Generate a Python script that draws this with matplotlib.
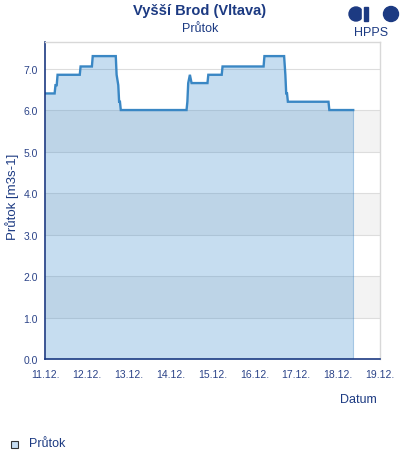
import matplotlib
matplotlib.use("Agg")
import matplotlib.pyplot as plt
from matplotlib.patches import Ellipse, Rectangle

plt.rcParams['font.family'] = ['Liberation Sans', 'DejaVu Sans']

# data: days since 11.12. 00:00, discharge m3/s
days = [0.0, 0.23, 0.25, 0.28, 0.30, 0.83, 0.85, 1.12, 1.14, 1.69, 1.71, 1.75,
        1.77, 1.79, 1.81, 3.38, 3.40, 3.42, 3.46, 3.50, 3.88, 3.90, 4.22, 4.24,
        5.22, 5.24, 5.71, 5.74, 5.76, 5.78, 5.80, 6.77, 6.79, 7.36]
flow = [6.4, 6.4, 6.6, 6.6, 6.85, 6.85, 7.05, 7.05, 7.3, 7.3, 6.85, 6.6,
        6.2, 6.2, 6.0, 6.0, 6.2, 6.65, 6.85, 6.65, 6.65, 6.85, 6.85, 7.05,
        7.05, 7.3, 7.3, 6.85, 6.4, 6.4, 6.2, 6.2, 6.0, 6.0]
xtick_labels = ["11.12.", "12.12.", "13.12.", "14.12.", "15.12.", "16.12.",
                "17.12.", "18.12.", "19.12."]
yticks = [0.0, 1.0, 2.0, 3.0, 4.0, 5.0, 6.0, 7.0]

navy = '#1c3a82'
txt = '#2b4388'
W, H = 400, 460

fig = plt.figure(figsize=(4.0, 4.6), dpi=100)
ax = fig.add_axes([45/W, 1-360/H, 335/W, (360-43)/H])
ax.set_xlim(0, 8)
ax.set_ylim(0, 7.64)

# alternating bands
for lo in [1, 3, 5]:
    ax.axhspan(lo, lo+1, color='#f3f3f3', zorder=0, lw=0)
for y in yticks[1:]:
    ax.axhline(y, color='#dddddd', lw=0.8, zorder=0.5)

ax.fill_between(days, flow, 0, color=(31/255, 123/255, 199/255), alpha=0.25,
                lw=0, zorder=1)
ax.plot([days[-1], days[-1]], [0, flow[-1]], color='#2f7bbf', alpha=0.3, lw=0.8, zorder=1.5)
ax.plot(days, flow, color='#3a87c4', lw=1.7, zorder=2, solid_joinstyle='miter')

ax.set_xticks(range(len(xtick_labels)))
ax.set_xticklabels(xtick_labels)
ax.set_yticks(yticks)
ax.set_yticklabels([f"{v:.1f}" for v in yticks])
ax.tick_params(length=0, labelsize=7.5, labelcolor=txt)
ax.tick_params(axis='x', pad=7)
ax.tick_params(axis='y', pad=5)

for s in ['top', 'right']:
    ax.spines[s].set_color('#d8d8d8')
    ax.spines[s].set_linewidth(1)
for s in ['left', 'bottom']:
    ax.spines[s].set_color(navy)
    ax.spines[s].set_linewidth(1.2)

fig.text(12/W, 1-197/H, "Průtok [m3s-1]", rotation=90, ha='center', va='center',
         color=navy, fontsize=9.5)

fig.text(0.5, 1-11/H, "Vyšší Brod (Vltava)", ha='center', va='center',
         fontsize=10.5, fontweight='bold', color=navy)
fig.text(0.5, 1-29/H, "Průtok", ha='center', va='center', fontsize=9, color=navy)
fig.text(358/W, 1-400/H, "Datum", ha='center', va='center', fontsize=9, color=navy)

# legend
fig.patches.append(Rectangle((11/W, 1-449/H), 7/W, 7/H, transform=fig.transFigure,
                             facecolor='#c6dcf0', edgecolor='#333333', lw=0.8))
fig.text(29/W, 1-444/H, "Průtok", ha='left', va='center', fontsize=9, color=navy)

# logo
fig.patches.append(Ellipse((356/W, 1-15/H), 14/W, 14/H, transform=fig.transFigure,
                           color=navy))
fig.patches.append(Rectangle((361.8/W, 1-23/H), 2.4/W, 16/H, transform=fig.transFigure,
                             color='white'))
fig.patches.append(Rectangle((364.2/W, 1-22/H), 3.5/W, 14/H, transform=fig.transFigure,
                             color=navy))
fig.patches.append(Ellipse((391/W, 1-15/H), 15/W, 15/H, transform=fig.transFigure,
                           color=navy))
fig.text(371/W, 1-33/H, "HPPS", ha='center', va='center', fontsize=9, color=navy)

fig.savefig("out.png", dpi=100)
